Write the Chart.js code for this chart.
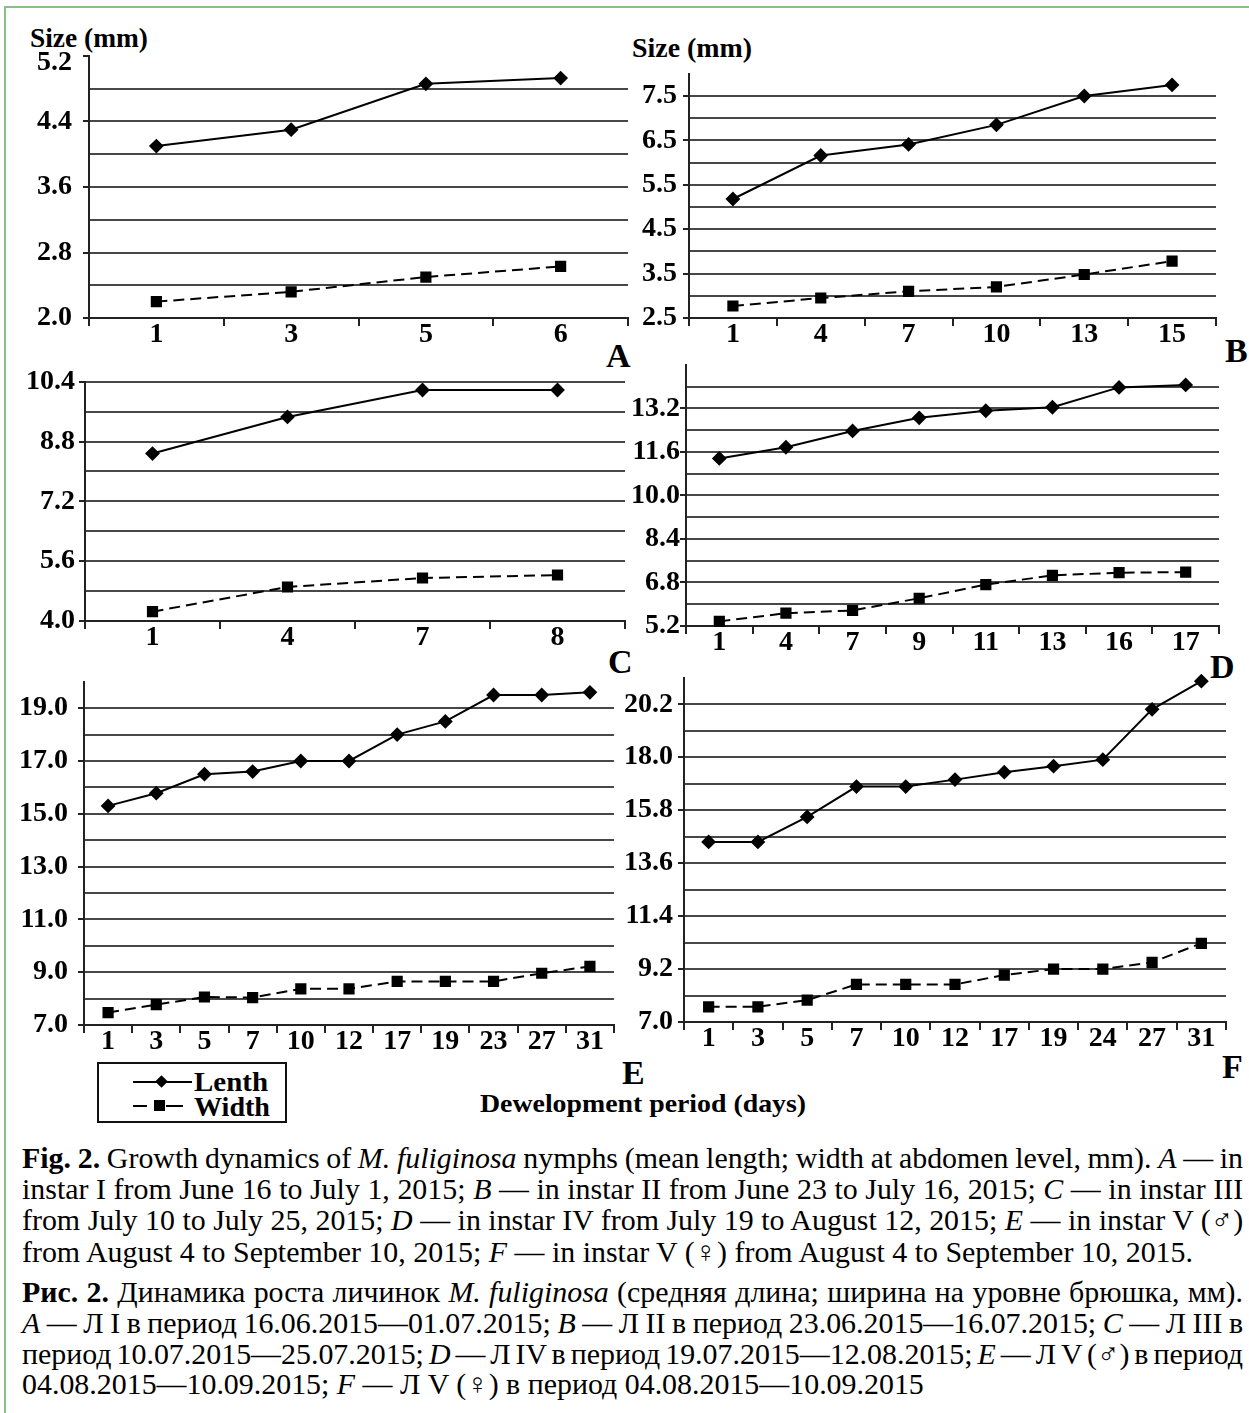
<!DOCTYPE html>
<html>
<head>
<meta charset="utf-8">
<script src="https://cdn.jsdelivr.net/npm/chart.js@4.4.0/dist/chart.umd.min.js"></script>
<style>
body { margin: 0; background: #fff; }
#page { position: relative; width: 1249px; height: 1413px; overflow: hidden; background: #fff;
        font-family: 'Liberation Serif', 'Times New Roman', serif; color: #000; }
.frameTop { position: absolute; left: 4px; top: 6px; width: 1245px; height: 2px; background: #86c283; }
.frameLeft { position: absolute; left: 4px; top: 6px; width: 2px; height: 1407px; background: #86c283; }
canvas { position: absolute; }
.lbl { position: absolute; font-weight: bold; white-space: nowrap; line-height: 1; }
.cap { position: absolute; left: 22px; white-space: nowrap; line-height: 1; font-size: 23px; }
.cap span { display: inline-block; }
.legendBox { position: absolute; left: 97px; top: 1062px; width: 186px; height: 57px; border: 2px solid #111; }
.seg { position: absolute; height: 2px; background: #000; }
.mk { position: absolute; background: #000; }
</style>
</head>
<body>
<div id="page">
  <div class="frameTop"></div>
  <div class="frameLeft"></div>

  <div class="lbl" id="sizeA" style="left:30px; top:25px; font-size:27px;">Size (mm)</div>
  <div class="lbl" id="sizeB" style="left:632px; top:35px; font-size:27px;">Size (mm)</div>

  <div class="lbl" style="left:606px; top:339px; font-size:34px;">A</div>
  <div class="lbl" style="left:1225px; top:334px; font-size:34px;">B</div>
  <div class="lbl" style="left:608px; top:645px; font-size:34px;">C</div>
  <div class="lbl" style="left:1210px; top:650px; font-size:34px;">D</div>
  <div class="lbl" style="left:622px; top:1056px; font-size:34px;">E</div>
  <div class="lbl" style="left:1222px; top:1050px; font-size:34px;">F</div>

  <div class="lbl" id="xTitle" style="left:480px; top:1091px; font-size:26px;">Dewelopment period (days)</div>

  <div class="legendBox"></div>
  <div class="seg" style="left:133px; top:1081px; width:59px;"></div>
  <div class="mk" style="left:157px; top:1077px; width:9px; height:9px; transform:rotate(45deg);"></div>
  <div class="lbl" id="legL" style="left:194px; top:1068px; font-size:28px;">Lenth</div>
  <div class="seg" style="left:133px; top:1105px; width:14px;"></div>
  <div class="mk" style="left:154px; top:1100px; width:11px; height:11px;"></div>
  <div class="seg" style="left:166px; top:1105px; width:17px;"></div>
  <div class="lbl" id="legW" style="left:194px; top:1093px; font-size:28px;">Width</div>
</div>

<script>
// --- data (days on x, size in mm on y) ---
const daysA = ['1', '3', '5', '6'];
const lengthA = [4.10, 4.30, 4.86, 4.93];
const widthA = [2.20, 2.32, 2.50, 2.63];

const daysB = ['1', '4', '7', '10', '13', '15'];
const lengthB = [5.18, 6.16, 6.41, 6.85, 7.50, 7.75];
const widthB = [2.77, 2.95, 3.10, 3.20, 3.48, 3.78];

const daysC = ['1', '4', '7', '8'];
const lengthC = [8.48, 9.46, 10.18, 10.18];
const widthC = [4.25, 4.91, 5.15, 5.23];

const daysD = ['1', '4', '7', '9', '11', '13', '16', '17'];
const lengthD = [11.36, 11.77, 12.37, 12.85, 13.11, 13.24, 13.97, 14.06];
const widthD = [5.37, 5.67, 5.77, 6.22, 6.72, 7.06, 7.16, 7.18];

const daysE = ['1', '3', '5', '7', '10', '12', '17', '19', '23', '27', '31'];
const lengthE = [15.3, 15.78, 16.5, 16.6, 17.0, 17.0, 18.0, 18.5, 19.5, 19.5, 19.6];
const widthE = [7.47, 7.77, 8.06, 8.04, 8.37, 8.37, 8.65, 8.65, 8.65, 8.96, 9.22];

const daysF = ['1', '3', '5', '7', '10', '12', '17', '19', '24', '27', '31'];
const lengthF = [14.48, 14.48, 15.52, 16.78, 16.78, 17.07, 17.38, 17.63, 17.9, 19.99, 21.16];
const widthF = [7.63, 7.63, 7.91, 8.56, 8.56, 8.56, 8.95, 9.2, 9.2, 9.48, 10.27];

// y axes: [min, max, gridline step, label step]
const yAxisA = [2.0, 5.2, 0.4, 0.8];
const yAxisB = [2.5, 8.0, 0.5, 1.0];
const yAxisC = [4.0, 10.4, 0.8, 1.6];
const yAxisD = [5.2, 14.8, 0.8, 1.6];
const yAxisE = [7.0, 20.0, 1.0, 2.0];
const yAxisF = [7.0, 21.3, 1.1, 2.2];

const captionLines = [
  '<b>Fig. 2.</b> Growth dynamics of <i>M. fuliginosa</i> nymphs (mean length; width at abdomen level, mm). <i>A</i> — in',
  'instar I from June 16 to July 1, 2015; <i>B</i> — in instar II from June 23 to July 16, 2015; <i>C</i> — in instar III',
  'from July 10 to July 25, 2015; <i>D</i> — in instar IV from July 19 to August 12, 2015; <i>E</i> — in instar V (♂)',
  'from August 4 to September 10, 2015; <i>F</i> — in instar V (♀) from August 4 to September 10, 2015.',
  '<b>Рис. 2.</b> Динамика роста личинок <i>M. fuliginosa</i> (средняя длина; ширина на уровне брюшка, мм).',
  '<i>A</i> — Л I в период 16.06.2015—01.07.2015; <i>B</i> — Л II в период 23.06.2015—16.07.2015; <i>C</i> — Л III в',
  'период 10.07.2015—25.07.2015; <i>D</i> — Л IV в период 19.07.2015—12.08.2015; <i>E</i> — Л V (♂) в период',
  '04.08.2015—10.09.2015; <i>F</i> — Л V (♀) в период 04.08.2015—10.09.2015'
];
const captionY = [1158, 1189, 1220, 1252, 1292, 1323, 1354, 1384];
const captionJustify = [true, true, true, false, true, true, true, false];

const page = document.getElementById('page');
const FONT = "'Liberation Serif', 'Times New Roman', serif";

// plot areas in page pixels; yPad = gap between labels and axis
const panels = [
  { days: daysA, len: lengthA, wid: widthA, y: yAxisA, topGrid: false, topLabel: true, nudgeTop: true, yPad: 11, area: { l: 89, t: 56, r: 628, b: 318 } },
  { days: daysB, len: lengthB, wid: widthB, y: yAxisB, topGrid: false, topLabel: false, nudgeTop: false, yPad: 6, area: { l: 689, t: 74, r: 1216, b: 318 } },
  { days: daysC, len: lengthC, wid: widthC, y: yAxisC, topGrid: true, topLabel: true, nudgeTop: false, yPad: 4, area: { l: 85, t: 382, r: 625, b: 621 } },
  { days: daysD, len: lengthD, wid: widthD, y: yAxisD, topGrid: false, topLabel: false, nudgeTop: false, yPad: 0, area: { l: 686, t: 365, r: 1219, b: 626 } },
  { days: daysE, len: lengthE, wid: widthE, y: yAxisE, topGrid: false, topLabel: false, nudgeTop: false, yPad: 10, area: { l: 84, t: 682, r: 614, b: 1025 } },
  { days: daysF, len: lengthF, wid: widthF, y: yAxisF, topGrid: false, topLabel: false, nudgeTop: false, yPad: 5, area: { l: 684, t: 678, r: 1226, b: 1022 } }
];

function panelConfig(p) {
  const [min, max, step, labelStep] = p.y;
  const yTicks = [];
  const n = Math.round((max - min) / step);
  for (let i = 0; i <= n; i++) yTicks.push(+(min + i * step).toFixed(2));
  const isTop = v => Math.abs(v - max) < 1e-6;
  const isLabel = v => {
    const k = (v - min) / labelStep;
    if (isTop(v) && !p.topLabel) return false;
    return Math.abs(k - Math.round(k)) < 1e-6;
  };
  // the top label of panel A sits a little below its tick, as printed
  const nudged = v => p.nudgeTop && isTop(v);

  return {
    type: 'line',
    data: {
      labels: p.days,
      datasets: [
        {
          label: 'Lenth',
          data: p.len,
          borderColor: '#000',
          backgroundColor: '#000',
          borderWidth: 2,
          pointStyle: 'rectRot',
          pointRadius: 6,
          pointBackgroundColor: '#000',
          pointBorderColor: '#000',
          tension: 0,
          clip: false
        },
        {
          label: 'Width',
          data: p.wid,
          borderColor: '#000',
          backgroundColor: '#000',
          borderWidth: 2,
          borderDash: [11, 6],
          pointStyle: 'rect',
          pointRadius: 6.5,
          pointBackgroundColor: '#000',
          pointBorderColor: '#000',
          tension: 0,
          clip: false
        }
      ]
    },
    options: {
      responsive: false,
      maintainAspectRatio: false,
      animation: false,
      devicePixelRatio: 1,
      layout: { padding: { top: 14, right: 14, left: 0, bottom: 0 } },
      plugins: { legend: { display: false }, tooltip: { enabled: false } },
      scales: {
        x: {
          type: 'category',
          offset: true,
          afterFit: s => { s.height = 42; },
          border: { display: true, color: '#222', width: 2 },
          grid: { offset: true, drawOnChartArea: false, drawTicks: true, tickLength: 8, color: '#222', lineWidth: 2 },
          ticks: { color: '#000', font: { family: FONT, size: 28, weight: 'bold' }, padding: -8, maxRotation: 0, autoSkip: false }
        },
        y: {
          min: min,
          max: max,
          afterFit: s => { s.width = 80; },
          afterBuildTicks: s => { s.ticks = yTicks.map(v => ({ value: v })); },
          border: { display: true, color: '#222', width: 2 },
          grid: {
            drawTicks: true,
            tickLength: 6,
            lineWidth: 2,
            color: c => (isTop(c.tick.value) && !p.topGrid) ? 'rgba(0,0,0,0)' : '#474747',
            tickColor: c => isLabel(c.tick.value) ? '#222' : 'rgba(0,0,0,0)'
          },
          ticks: {
            color: '#000',
            padding: p.yPad,
            autoSkip: false,
            font: c => ({ family: FONT, size: 28, weight: 'bold', lineHeight: (c.tick && nudged(c.tick.value)) ? 0.5 : 1.2 }),
            callback: v => {
              if (!isLabel(v)) return '';
              return nudged(v) ? ['', v.toFixed(1)] : v.toFixed(1);
            }
          }
        }
      }
    }
  };
}

function sizeCanvas(cv, w, h, left, top) {
  cv.width = w; cv.height = h;
  cv.style.width = w + 'px'; cv.style.height = h + 'px';
  cv.style.left = left + 'px'; cv.style.top = top + 'px';
}

function makePanel(p) {
  const a = p.area;
  const cv = document.createElement('canvas');
  page.appendChild(cv);
  // first pass: find how much room the axes take around the plot area
  let w = a.r - a.l + 94, h = a.b - a.t + 56;
  sizeCanvas(cv, w, h, a.l - 80, a.t - 14);
  let chart = new Chart(cv, panelConfig(p));
  const ca = chart.chartArea;
  const offL = ca.left, offT = ca.top, offR = w - ca.right, offB = h - ca.bottom;
  chart.destroy();
  // second pass: canvas sized so the plot area lands on the target box
  w = Math.round(a.r - a.l + offL + offR);
  h = Math.round(a.b - a.t + offT + offB);
  sizeCanvas(cv, w, h, Math.round(a.l - offL), Math.round(a.t - offT));
  chart = new Chart(cv, panelConfig(p));
}

panels.forEach(makePanel);

// caption, justified like the printed figure
captionLines.forEach((html, i) => {
  const d = document.createElement('div');
  d.className = 'cap';
  d.style.top = (captionY[i] - 12) + 'px';
  d.innerHTML = '<span>' + html + '</span>';
  page.appendChild(d);
});

const capDivs = Array.from(document.querySelectorAll('.cap'));
// scale the font so the unjustified English line has its printed width
const refSpan = capDivs[3].firstChild;
const baseW = refSpan.getBoundingClientRect().width;
const capSize = 23 * (1171 / baseW);
capDivs.forEach((d, i) => {
  d.style.fontSize = capSize.toFixed(2) + 'px';
  d.style.top = (captionY[i] - capSize / 2) + 'px';
});
capDivs.forEach((d, i) => {
  if (!captionJustify[i]) return;
  const sp = d.firstChild;
  const wNow = sp.getBoundingClientRect().width;
  const spaces = (sp.textContent.match(/ /g) || []).length;
  sp.style.wordSpacing = ((1221 - wNow) / spaces).toFixed(2) + 'px';
});

// stretch a few bold labels to their printed widths
function fitWidth(id, target) {
  const el = document.getElementById(id);
  const w = el.getBoundingClientRect().width;
  el.style.transformOrigin = 'left center';
  el.style.transform = 'scaleX(' + (target / w).toFixed(3) + ')';
}
fitWidth('sizeA', 118);
fitWidth('sizeB', 120);
fitWidth('xTitle', 326);
fitWidth('legL', 74);
fitWidth('legW', 76);
</script>
</body>
</html>
